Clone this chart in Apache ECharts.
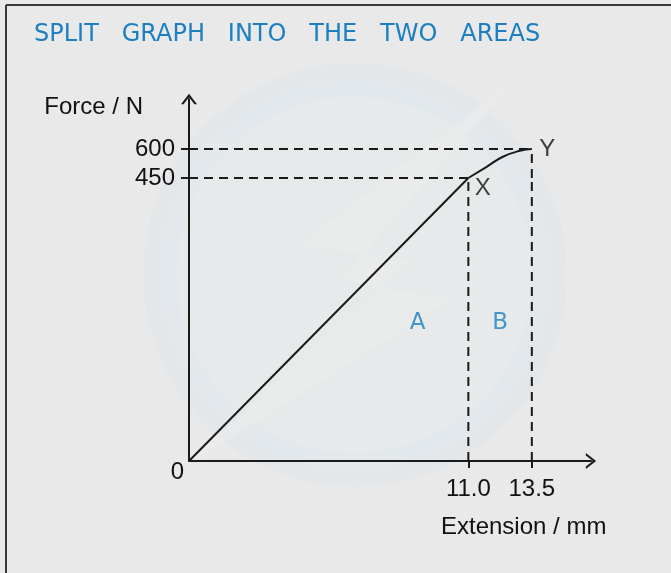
<!DOCTYPE html>
<html><head><meta charset="utf-8">
<script src="https://cdn.jsdelivr.net/npm/echarts@6/dist/echarts.min.js"></script>
<style>html,body{margin:0;padding:0;background:#e9e9e9}#c{width:671px;height:573px}</style>
</head><body><div id="c"></div>
<script>
// ---- data ----
const titleText = 'SPLIT   GRAPH   INTO   THE   TWO   AREAS';
const xName = 'Extension / mm';
const yName = 'Force / N';
const lowerLine = [[0, 0], [11.0, 450]];                         // O -> X (straight)
const upperCurve = [[11.0, 450], [11.72, 508], [12.36, 560], [13.03, 591], [13.5, 600]]; // X -> Y
const pointNames = ['X', 'Y'];
const points = [[11.0, 450], [13.5, 600]];
const xTicks = [11.0, 13.5];
const yTicksLower = [0, 450];
const yTicksUpper = [600];
const areaNames = ['A', 'B'];
const areaPos = [[9.0, 219], [12.25, 219]];
const xMax = 15.83;
const yMaxUpper = 859;

// ---- build ----
const ink = '#1a1a1a';
const blue = '#1b7fc2';
const font = 'Liberation Sans, Arial, sans-serif';
const tfont = 'DejaVu Sans, sans-serif';
const chevron = 'path://M0,0 L10,13 L6.8,13 L0,4.2 L-6.8,13 L-10,13 Z';
const X = points[0], Y = points[1];

function dashed(idx, data) {
  return { type: 'line', xAxisIndex: idx, yAxisIndex: idx, data: data, symbol: 'none', silent: true,
    lineStyle: { color: ink, width: 2, type: [9, 6] }, z: 3 };
}

const chart = echarts.init(document.getElementById('c'), null, { renderer: 'canvas' });
chart.setOption({
  backgroundColor: '#e9e9e9',
  animation: false,
  title: { text: titleText, left: 29, top: 18,
    textStyle: { fontFamily: tfont, fontWeight: 'normal', fontSize: 24, color: blue } },
  graphic: [
    { type: 'circle', shape: { cx: 355, cy: 275, r: 195 }, silent: true, z: -10,
      style: { fill: 'rgba(228,234,238,0.45)', stroke: 'rgba(215,228,238,0.28)', lineWidth: 34 } },
    { type: 'polygon', silent: true, z: -9,
      shape: { points: [[520, 75], [300, 245], [410, 260], [180, 470], [450, 300], [340, 280]] },
      style: { fill: 'rgba(236,236,236,0.6)' } },
    { type: 'line', shape: { x1: 6, y1: 5, x2: 671, y2: 5 }, style: { stroke: '#3a3a3a', lineWidth: 2 }, z: 10 },
    { type: 'line', shape: { x1: 6, y1: 5, x2: 6, y2: 573 }, style: { stroke: '#3a3a3a', lineWidth: 2 }, z: 10 }
  ],
  grid: [
    { left: 189, right: 80, top: 178, height: 283 },
    { left: 189, right: 80, top: 99, height: 79 }
  ],
  xAxis: [
    { gridIndex: 0, type: 'value', min: 0, max: xMax,
      axisLine: { show: true, symbol: ['none', chevron], symbolSize: [16, 16],
        lineStyle: { color: ink, width: 2 } },
      axisTick: { show: true, customValues: xTicks, length: 7, lineStyle: { color: ink, width: 2 } },
      axisLabel: { customValues: xTicks, formatter: v => v.toFixed(1), fontSize: 24, fontFamily: font, color: '#111', margin: 16 },
      splitLine: { show: false },
      name: xName, nameLocation: 'end', nameGap: -150,
      nameTextStyle: { fontSize: 24, fontFamily: font, color: '#111', align: 'left', verticalAlign: 'top', padding: [54, 0, 0, 0] } },
    { gridIndex: 1, type: 'value', min: 0, max: xMax, show: false, splitLine: { show: false } }
  ],
  yAxis: [
    { gridIndex: 0, type: 'value', min: 0, max: 450,
      axisLine: { show: true, lineStyle: { color: ink, width: 2 } },
      axisTick: { show: true, customValues: [yTicksLower[1]], length: 8, lineStyle: { color: ink, width: 2 } },
      axisLabel: { customValues: yTicksLower, margin: 5, color: '#111', fontSize: 24, fontFamily: font,
        formatter: v => v === 0 ? '{z|0}' : '{a|' + v + '}',
        rich: { z: { fontSize: 24, fontFamily: font, color: '#111', padding: [22, 0, 0, 0] },
                a: { fontSize: 24, fontFamily: font, color: '#111', padding: [0, 9, 0, 0] } } },
      splitLine: { show: false } },
    { gridIndex: 1, type: 'value', min: 450, max: yMaxUpper,
      axisLine: { show: true, symbol: ['none', chevron], symbolSize: [16, 16],
        lineStyle: { color: ink, width: 2 } },
      axisTick: { show: true, customValues: yTicksUpper, length: 8, lineStyle: { color: ink, width: 2 } },
      axisLabel: { customValues: yTicksUpper, margin: 14, color: '#111', fontSize: 24, fontFamily: font },
      splitLine: { show: false },
      name: yName, nameLocation: 'end', nameGap: -8,
      nameTextStyle: { fontSize: 24, fontFamily: font, color: '#111', align: 'right', verticalAlign: 'middle', padding: [0, 46, 0, 0] } }
  ],
  series: [
    { type: 'line', xAxisIndex: 0, yAxisIndex: 0, data: lowerLine, symbol: 'none', silent: true,
      lineStyle: { color: ink, width: 2 }, z: 4 },
    { type: 'line', xAxisIndex: 1, yAxisIndex: 1, data: upperCurve, symbol: 'none', smooth: true, silent: true,
      lineStyle: { color: ink, width: 2 }, z: 4 },
    dashed(0, [[0, X[1]], X]),
    dashed(0, [[X[0], 0], X]),
    dashed(0, [[Y[0], 0], [Y[0], X[1]]]),
    dashed(1, [[0, Y[1]], Y]),
    dashed(1, [[Y[0], X[1]], Y]),
    { type: 'scatter', xAxisIndex: 1, yAxisIndex: 1, symbolSize: 1, silent: true, clip: false,
      itemStyle: { color: 'rgba(0,0,0,0)' },
      data: points.map((p, i) => ({ value: p, name: pointNames[i],
        label: { show: true, position: 'right', formatter: '{b}', offset: i === 0 ? [1, 10] : [2, 0],
          fontSize: 24, fontFamily: font, color: '#111' } })) },
    { type: 'scatter', xAxisIndex: 0, yAxisIndex: 0, symbolSize: 1, silent: true,
      itemStyle: { color: 'rgba(0,0,0,0)' },
      data: areaPos.map((p, i) => ({ value: p, name: areaNames[i],
        label: { show: true, position: 'inside', formatter: '{b}',
          fontSize: 23, fontFamily: tfont, fontWeight: 'normal', color: blue } })) }
  ]
});
</script></body></html>
